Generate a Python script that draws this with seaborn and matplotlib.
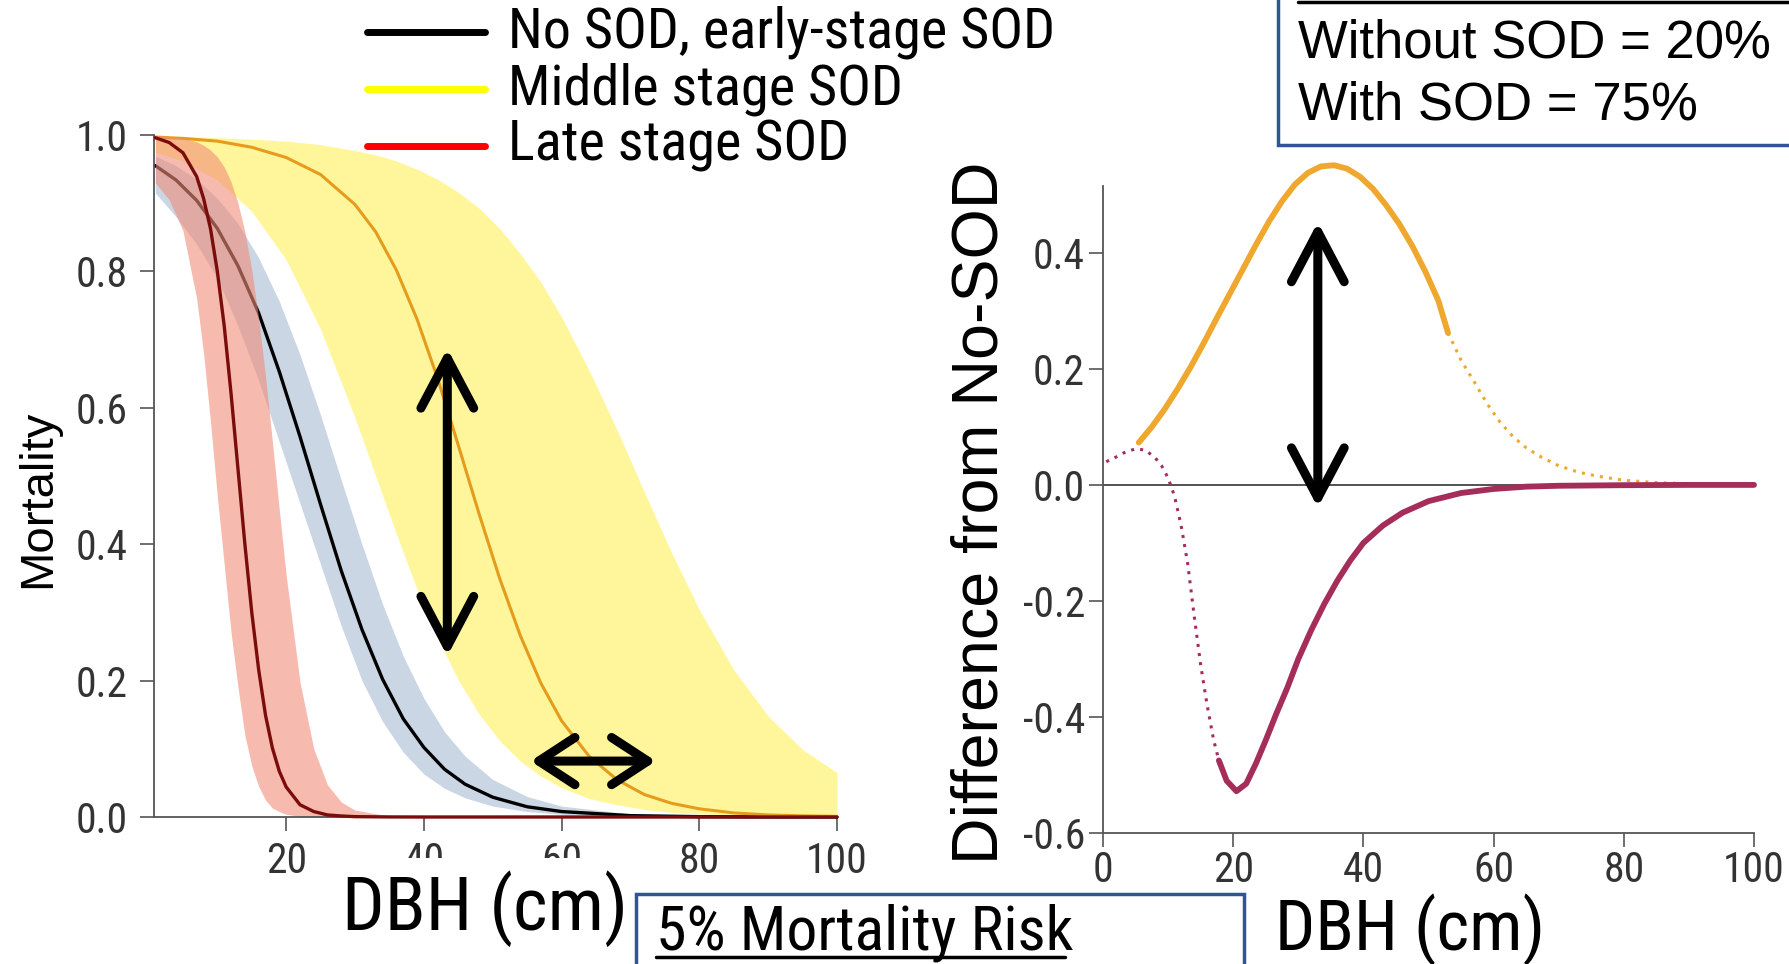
import os
import matplotlib
matplotlib.use("Agg")
import matplotlib.pyplot as plt
import seaborn as sns
from matplotlib import font_manager
from matplotlib.font_manager import FontProperties
from matplotlib.patches import Rectangle
from matplotlib.lines import Line2D

# ---------------- data ----------------
# Left panel: mortality vs DBH
dbh_black = [1, 4, 7, 10, 13, 16, 19, 22, 25, 28, 31, 34, 37, 40, 43, 46, 50, 55, 60, 70, 80, 90, 100]
mort_black = [0.955, 0.934, 0.904, 0.863, 0.808, 0.739, 0.653, 0.558, 0.458, 0.361, 0.275, 0.202,
              0.144, 0.102, 0.070, 0.048, 0.029, 0.015, 0.008, 0.002, 0.0005, 0.0001, 0.0]
black_lo = [0.915, 0.88, 0.84, 0.79, 0.72, 0.64, 0.55, 0.46, 0.37, 0.28, 0.20, 0.14,
            0.095, 0.063, 0.042, 0.028, 0.016, 0.008, 0.004, 0.001, 0.0, 0.0, 0.0]
black_hi = [0.969, 0.955, 0.935, 0.907, 0.87, 0.82, 0.756, 0.678, 0.589, 0.494, 0.40, 0.312,
            0.236, 0.174, 0.125, 0.089, 0.055, 0.030, 0.016, 0.0045, 0.0013, 0.0004, 0.0001]

dbh_red = [1, 3, 5, 7, 8, 9, 10, 11, 12, 13, 14, 15, 16, 17, 18, 19, 20, 22, 24, 26, 28, 30,
           35, 40, 50, 60, 70, 80, 90, 100]
mort_red = [0.996, 0.989, 0.974, 0.939, 0.907, 0.863, 0.80, 0.72, 0.62, 0.51, 0.40, 0.30, 0.216,
            0.149, 0.101, 0.067, 0.044, 0.018, 0.008, 0.003, 0.0015, 0.0005, 0.0001, 0.0, 0.0,
            0.0, 0.0, 0.0, 0.0, 0.0]
red_lo = [0.93, 0.905, 0.86, 0.76, 0.68, 0.58, 0.47, 0.37, 0.27, 0.19, 0.12, 0.075, 0.045,
          0.025, 0.013, 0.008, 0.004, 0.001, 0.0, 0.0, 0.0, 0.0, 0.0, 0.0, 0.0, 0.0, 0.0, 0.0, 0.0, 0.0]
red_hi = [0.999, 0.998, 0.9955, 0.990, 0.985, 0.978, 0.968, 0.953, 0.931, 0.900, 0.858, 0.802,
          0.731, 0.646, 0.550, 0.450, 0.354, 0.198, 0.100, 0.047, 0.022, 0.010, 0.0014, 0.0002,
          0.0, 0.0, 0.0, 0.0, 0.0, 0.0]

dbh_yel = [1, 5, 10, 15, 20, 25, 30, 33, 36, 39, 42, 45, 48, 51, 54, 57, 60, 64, 68, 72, 76, 80,
           85, 90, 95, 100]
mort_yel = [0.997, 0.995, 0.991, 0.982, 0.967, 0.942, 0.898, 0.858, 0.802, 0.730, 0.643, 0.545,
            0.445, 0.350, 0.266, 0.196, 0.141, 0.089, 0.055, 0.033, 0.020, 0.012, 0.006, 0.003,
            0.0017, 0.0009]
yel_lo = [0.975, 0.962, 0.934, 0.888, 0.817, 0.715, 0.585, 0.500, 0.415, 0.334, 0.262, 0.201,
          0.151, 0.112, 0.082, 0.060, 0.043, 0.027, 0.018, 0.011, 0.007, 0.0045, 0.0025, 0.0014,
          0.0008, 0.0005]
yel_hi = [0.998, 0.998, 0.996, 0.994, 0.991, 0.986, 0.977, 0.971, 0.962, 0.950, 0.935, 0.916,
          0.893, 0.863, 0.826, 0.784, 0.733, 0.655, 0.569, 0.477, 0.387, 0.304, 0.216, 0.148,
          0.099, 0.065]

# Right panel: difference from No-SOD
dbh_mid_solid = [5.5, 7.5, 9.5, 11.5, 13.5, 15.5, 17.5, 19.5, 21.5, 23.5, 25.5, 27.5, 29.5, 31.5,
                 33.5, 35.5, 37.5, 39.5, 41.5, 43.5, 45.5, 47.5, 49.5, 51.5, 53]
diff_mid_solid = [0.073, 0.100, 0.131, 0.166, 0.204, 0.245, 0.288, 0.330, 0.372, 0.414, 0.454,
                  0.489, 0.518, 0.538, 0.549, 0.551, 0.545, 0.531, 0.510, 0.482, 0.450, 0.412,
                  0.368, 0.318, 0.262]
dbh_mid_dot = [53, 55, 57, 59, 61, 63, 65, 67, 70, 73, 76, 80, 85, 90, 95, 100]
diff_mid_dot = [0.262, 0.215, 0.178, 0.140, 0.108, 0.083, 0.064, 0.050, 0.033, 0.022, 0.015,
                0.008, 0.004, 0.002, 0.001, 0.0]
dbh_late_dot = [0.5, 2, 3.5, 5, 6.5, 8, 9, 10, 11, 12, 13, 14, 15, 16, 17, 17.8]
diff_late_dot = [0.040, 0.048, 0.057, 0.062, 0.060, 0.047, 0.033, 0.012, -0.020, -0.070, -0.135,
                 -0.225, -0.31, -0.38, -0.44, -0.475]
dbh_late_solid = [17.8, 19, 20.5, 22, 23.5, 25, 26.6, 28.3, 30, 32, 34, 36, 38, 40, 43, 46, 50,
                  55, 60, 65, 70, 80, 90, 100]
diff_late_solid = [-0.475, -0.51, -0.528, -0.515, -0.48, -0.44, -0.395, -0.35, -0.30, -0.25,
                   -0.205, -0.165, -0.13, -0.10, -0.07, -0.048, -0.028, -0.014, -0.007, -0.003,
                   -0.0015, -0.0005, 0.0, 0.0]

legend_labels = ["No SOD, early-stage SOD", "Middle stage SOD", "Late stage SOD"]
legend_colors = ["#000000", "#FFFF00", "#FF0000"]
left_xticks = [20, 40, 60, 80, 100]
left_yticks = [0.0, 0.2, 0.4, 0.6, 0.8, 1.0]
right_xticks = [0, 20, 40, 60, 80, 100]
right_yticks = [-0.6, -0.4, -0.2, 0.0, 0.2, 0.4]

# ---------------- style ----------------
sns.set_theme(style="ticks")
names = {f.name for f in font_manager.fontManager.ttflist}
REG = "Liberation Sans" if "Liberation Sans" in names else "DejaVu Sans"
plt.rcParams["font.family"] = [REG, "DejaVu Sans"]
plt.rcParams["axes.unicode_minus"] = False


def _is_regular(f):
    w = f.weight
    if isinstance(w, str):
        ok = w.lower() in ("normal", "regular", "book", "400")
    else:
        ok = (w == 400)
    return ok and f.style == "normal"


def pick_narrow():
    prefs = ["liberation sans narrow", "arial narrow", "roboto condensed", "noto sans",
             "open sans", "lato", "dejavu sans"]
    best = None
    best_rank = 1e9
    for f in font_manager.fontManager.ttflist:
        if not _is_regular(f):
            continue
        nm = f.name.lower()
        fn = os.path.basename(f.fname).lower()
        if "mono" in nm or "serif" in nm or "mono" in fn:
            continue
        tag = nm + " " + fn
        narrowish = ("narrow" in tag or "condensed" in tag or
                     str(f.stretch) in ("condensed", "semi-condensed"))
        if not narrowish:
            continue
        if "extra" in tag or "ultra" in tag:
            continue
        rank = len(prefs)
        for i, p in enumerate(prefs):
            if p in nm:
                rank = i
                break
        if "semi" in tag:
            rank += 0.5
        if rank < best_rank:
            best_rank = rank
            best = f
    return best


_nf = pick_narrow()
NARROW_SCALE = 1.0 if _nf is not None else 0.82


def nfont(size):
    if _nf is not None:
        return FontProperties(fname=_nf.fname, size=size)
    return FontProperties(family=REG, size=size * NARROW_SCALE)


W, H = 1789, 964
fig = plt.figure(figsize=(W / 100, H / 100), dpi=100)
fig.patch.set_facecolor("white")


def fx(px):
    return px / W


def fy(py):
    return 1 - py / H


SPINE = "#555555"
TICKC = "#333333"
TICK_SIZE = 30

# ---------------- left panel ----------------
axL = fig.add_axes([fx(154), fy(817), fx(837) - fx(154), fy(135) - fy(817)])
axL.set_facecolor("none")
axL.fill_between(dbh_yel, yel_lo, yel_hi, color="#FFF47A", alpha=0.75, lw=0, zorder=1)
axL.fill_between(dbh_black, black_lo, black_hi, color="#A8BCD2", alpha=0.6, lw=0, zorder=1.1)
sns.lineplot(x=dbh_black, y=mort_black, ax=axL, color="black", lw=2.4, estimator=None,
             sort=False, zorder=1.5)
sns.lineplot(x=dbh_yel, y=mort_yel, ax=axL, color="#E59B1C", lw=2.2, estimator=None,
             sort=False, zorder=1.6)
axL.fill_between(dbh_red, red_lo, red_hi, color="#F08C78", alpha=0.6, lw=0, zorder=2)
sns.lineplot(x=dbh_red, y=mort_red, ax=axL, color="#7B0C0C", lw=2.4, estimator=None,
             sort=False, zorder=3)
for ln in axL.lines:
    ln.set_clip_on(False)

axL.set_xlim(0.8, 100)
axL.set_ylim(0, 1.0)
axL.set_xticks(left_xticks)
axL.set_xticklabels([str(v) for v in left_xticks])
axL.set_yticks(left_yticks)
axL.set_yticklabels([f"{v:.1f}" for v in left_yticks])
for s in ["top", "right"]:
    axL.spines[s].set_visible(False)
for s in ["left", "bottom"]:
    axL.spines[s].set_color(SPINE)
    axL.spines[s].set_linewidth(1.3)
axL.tick_params(axis="both", direction="out", length=10, width=1.2, color=SPINE,
                labelcolor=TICKC)
axL.tick_params(axis="y", pad=9)
axL.tick_params(axis="x", pad=7)
for lab in axL.get_xticklabels() + axL.get_yticklabels():
    lab.set_fontproperties(nfont(TICK_SIZE))
axL.set_xlabel("")
axL.set_ylabel("")

arrow_big = dict(arrowstyle="<->,head_length=1.8,head_width=0.95", lw=6.5, color="black",
                 shrinkA=0, shrinkB=0, mutation_scale=20, capstyle="round", joinstyle="round")
arrow_small = dict(arrowstyle="<->,head_length=1.3,head_width=0.85", lw=6.5, color="black",
                   shrinkA=0, shrinkB=0, mutation_scale=20, capstyle="round", joinstyle="round")
axL.annotate("", xy=(43.4, 0.687), xytext=(43.4, 0.236), arrowprops=arrow_big, zorder=5)
axL.annotate("", xy=(73.7, 0.082), xytext=(55.5, 0.082), arrowprops=arrow_small, zorder=5)

# ---------------- right panel ----------------
axR = fig.add_axes([fx(1103), fy(833), fx(1754) - fx(1103), fy(160) - fy(833)])
axR.set_facecolor("none")
axR.axhline(0, color="#444444", lw=1.3, zorder=1)
sns.lineplot(x=dbh_mid_dot, y=diff_mid_dot, ax=axR, color="#EFA72E", lw=2.2, linestyle=(0, (1, 2)),
             estimator=None, sort=False, zorder=2)
sns.lineplot(x=dbh_late_dot, y=diff_late_dot, ax=axR, color="#A52D5A", lw=2.2,
             linestyle=(0, (1, 2)), estimator=None, sort=False, zorder=2)
sns.lineplot(x=dbh_mid_solid, y=diff_mid_solid, ax=axR, color="#EFA72E", lw=4.2,
             estimator=None, sort=False, zorder=3)
sns.lineplot(x=dbh_late_solid, y=diff_late_solid, ax=axR, color="#A52D5A", lw=4.2,
             estimator=None, sort=False, zorder=3)
for ln in axR.lines:
    ln.set_clip_on(False)
    ln.set_solid_capstyle("round")

axR.set_xlim(0, 100)
axR.set_ylim(-0.6, 0.56)
axR.set_xticks(right_xticks)
axR.set_xticklabels([str(v) for v in right_xticks])
axR.set_yticks(right_yticks)
axR.set_yticklabels([f"{v:.1f}" if v != 0 else "0.0" for v in right_yticks])
for s in ["top", "right"]:
    axR.spines[s].set_visible(False)
for s in ["left", "bottom"]:
    axR.spines[s].set_color(SPINE)
    axR.spines[s].set_linewidth(1.3)
axR.spines["left"].set_bounds(-0.6, 0.516)
axR.tick_params(axis="both", direction="out", length=10, width=1.2, color=SPINE,
                labelcolor=TICKC)
axR.tick_params(axis="y", pad=3)
axR.tick_params(axis="x", pad=2)
for lab in axR.get_xticklabels() + axR.get_yticklabels():
    lab.set_fontproperties(nfont(TICK_SIZE))
axR.set_xlabel("")
axR.set_ylabel("")
axR.annotate("", xy=(33, 0.453), xytext=(33, -0.039), arrowprops=arrow_big, zorder=5)

# ---------------- figure-level labels ----------------
fig.text(fx(38), fy(499), "Mortality", rotation=90, ha="center", va="center",
         fontsize=34, family=REG, color="black")
fig.text(fx(981), fy(513), "Difference from No-SOD", rotation=90, ha="center", va="center",
         fontsize=46.5, family=REG, color="black")

# white cover that hides the lower part of the "40" and "60" labels (as in the reference)
fig.patches.append(Rectangle((fx(395), 0), fx(636) - fx(395), fy(858), transform=fig.transFigure,
                             facecolor="white", edgecolor="none", zorder=1))
fig.text(fx(485), fy(930), "DBH (cm)", ha="center", va="baseline",
         fontproperties=nfont(54), color="black", zorder=4)
fig.text(fx(1410), fy(950), "DBH (cm)", ha="center", va="baseline",
         fontproperties=nfont(51), color="black", zorder=4)

# legend (top)
leg_y = [32, 89, 146]
for lab, col, yy in zip(legend_labels, legend_colors, leg_y):
    fig.add_artist(Line2D([fx(367), fx(485)], [fy(yy), fy(yy)], transform=fig.transFigure,
                          color=col, lw=5, zorder=4))
    fig.text(fx(508), fy(yy), lab, ha="left", va="center", fontproperties=nfont(40.5),
             color="black", zorder=4)

# top-right box
BOXC = "#2F5597"
fig.patches.append(Rectangle((fx(1278), fy(145)), 0.5, 0.5, transform=fig.transFigure,
                             facecolor="white", edgecolor=BOXC, lw=2.5, zorder=2))
fig.add_artist(Line2D([fx(1298), fx(1789)], [fy(2), fy(2)], transform=fig.transFigure,
                      color="black", lw=2.5, zorder=4))
fig.text(fx(1298), fy(43), "Without SOD = 20%", ha="left", va="center", fontsize=38,
         family=REG, color="black", zorder=4)
fig.text(fx(1298), fy(105), "With SOD = 75%", ha="left", va="center", fontsize=38,
         family=REG, color="black", zorder=4)

# bottom box
fig.patches.append(Rectangle((fx(636), fy(1000)), fx(1244) - fx(636), fy(894) - fy(1000),
                             transform=fig.transFigure, facecolor="white", edgecolor=BOXC,
                             lw=2.5, zorder=2))
fig.text(fx(656), fy(950), "5% Mortality Risk", ha="left", va="baseline",
         fontproperties=nfont(44.5), color="black", zorder=4)
fig.add_artist(Line2D([fx(656), fx(1065)], [fy(957), fy(957)], transform=fig.transFigure,
                      color="black", lw=2.5, zorder=4))

fig.savefig("out.png", dpi=100, facecolor="white")
